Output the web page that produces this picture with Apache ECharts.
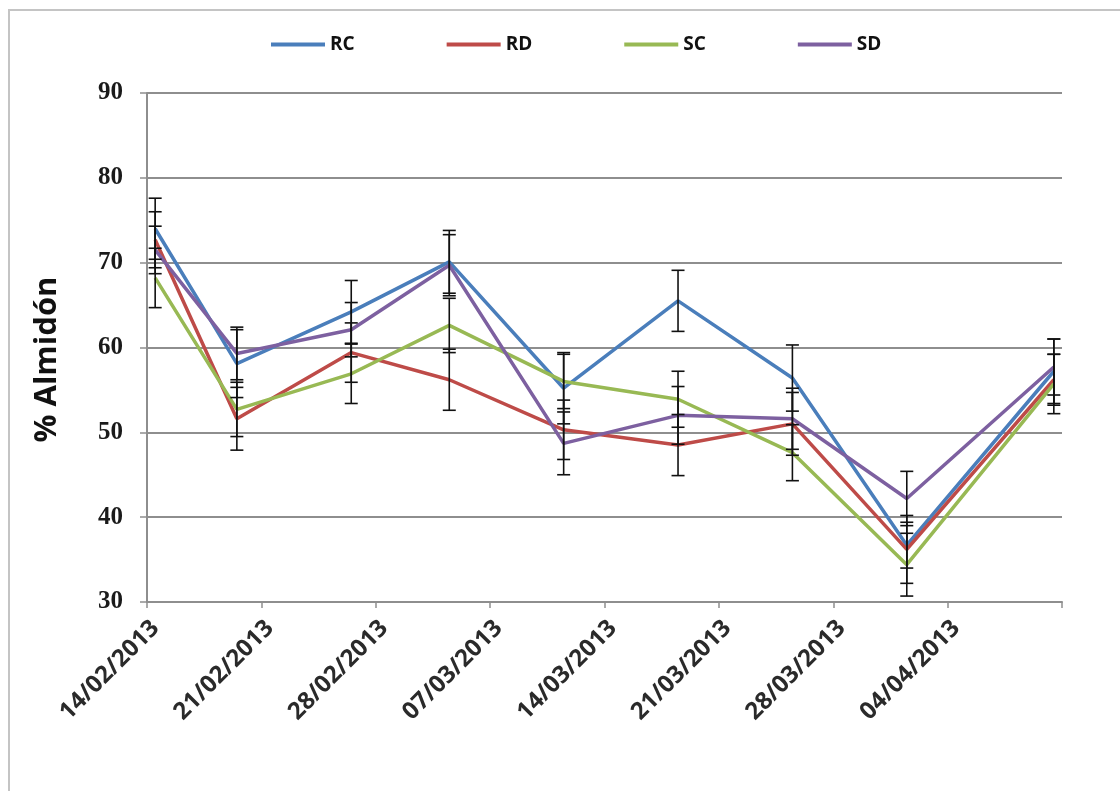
<!DOCTYPE html>
<html>
<head>
<meta charset="utf-8">
<script src="https://cdn.jsdelivr.net/npm/echarts@6/dist/echarts.min.js"></script>
<style>
  html, body { margin: 0; padding: 0; background: #ffffff; }
  #chart { width: 1120px; height: 791px; }
</style>
</head>
<body>
<div id="chart"></div>
<script>
// ---- data ----
const axisStart = '2013-02-14';
const sampleDates = ['2013-02-14', '2013-02-19', '2013-02-26', '2013-03-04', '2013-03-11',
                     '2013-03-18', '2013-03-25', '2013-04-01', '2013-04-10'];
const seriesNames = ['RC', 'RD', 'SC', 'SD'];
const RC = [74.0, 58.1, 64.2, 70.1, 55.2, 65.5, 56.4, 36.7, 57.2];
const RD = [72.7, 51.6, 59.4, 56.2, 50.3, 48.5, 51.0, 36.2, 56.2];
const SC = [68.2, 52.7, 56.9, 62.6, 56.0, 53.9, 47.6, 34.4, 55.7];
const SD = [71.5, 59.3, 62.1, 69.7, 48.7, 52.0, 51.6, 42.2, 57.7];
const RC_err = [3.6, 4.0, 3.7, 3.7, 4.2, 3.6, 3.9, 2.7, 3.8];
const RD_err = [3.3, 3.7, 3.5, 3.6, 3.5, 3.6, 3.7, 4.0, 3.0];
const SC_err = [3.5, 3.2, 3.5, 3.2, 3.2, 3.3, 3.3, 3.7, 3.5];
const SD_err = [2.8, 3.1, 3.2, 3.6, 3.7, 3.4, 3.6, 3.2, 3.3];
const xTickLabels = ['14/02/2013', '21/02/2013', '28/02/2013', '07/03/2013', '14/03/2013',
                     '21/03/2013', '28/03/2013', '04/04/2013', ''];
const yTicks = [30, 40, 50, 60, 70, 80, 90];
const colors = ['#4A7EBB', '#BE4B48', '#98B954', '#7D60A0'];

// ---- build ----
const DAY = 86400000;
const t0 = Date.parse(axisStart + 'T00:00:00Z');
// Excel date axis places each point in the middle of its day slot
const xDays = sampleDates.map(d => (Date.parse(d + 'T00:00:00Z') - t0) / DAY + 0.5);
const values = [RC, RD, SC, SD];
const errs = [RC_err, RD_err, SC_err, SD_err];

const lineSeries = seriesNames.map((name, i) => ({
  name: name,
  type: 'line',
  data: xDays.map((x, j) => [x, values[i][j]]),
  symbol: 'none',
  lineStyle: { width: 3.5, color: colors[i] },
  itemStyle: { color: colors[i] },
  z: 2
}));

const errData = [];
seriesNames.forEach((name, i) => {
  xDays.forEach((x, j) => {
    errData.push([x, values[i][j] - errs[i][j], values[i][j] + errs[i][j]]);
  });
});

const errorSeries = {
  type: 'custom',
  name: 'err',
  data: errData,
  z: 5,
  silent: true,
  renderItem: function (params, api) {
    const x = api.value(0);
    const lo = api.coord([x, api.value(1)]);
    const hi = api.coord([x, api.value(2)]);
    const w = 6.5;
    const st = { stroke: '#111', lineWidth: 1.6 };
    return {
      type: 'group',
      children: [
        { type: 'line', shape: { x1: lo[0], y1: lo[1], x2: hi[0], y2: hi[1] }, style: st },
        { type: 'line', shape: { x1: lo[0] - w, y1: lo[1], x2: lo[0] + w, y2: lo[1] }, style: st },
        { type: 'line', shape: { x1: hi[0] - w, y1: hi[1], x2: hi[0] + w, y2: hi[1] }, style: st }
      ]
    };
  }
};

const chart = echarts.init(document.getElementById('chart'), null, { renderer: 'canvas' });
chart.setOption({
  backgroundColor: '#ffffff',
  animation: false,
  color: colors,
  graphic: [{
    type: 'rect',
    shape: { x: 9, y: 10, width: 1130, height: 800 },
    style: { fill: 'none', stroke: '#c4c4c4', lineWidth: 2 },
    silent: true
  }],
  legend: {
    data: seriesNames,
    left: 271,
    top: 35,
    itemWidth: 54,
    itemHeight: 4,
    itemGap: 92,
    icon: 'rect',
    padding: 0,
    textStyle: { fontFamily: 'Open Sans', fontWeight: 'bold', fontSize: 19, color: '#111' }
  },
  grid: { left: 147, right: 58, top: 93, bottom: 189, containLabel: false },
  xAxis: {
    type: 'value',
    min: 0,
    max: 56,
    interval: 7,
    axisLine: { show: true, lineStyle: { color: '#8e8e8e', width: 2 } },
    axisTick: { show: true, inside: false, length: 6, lineStyle: { color: '#8e8e8e', width: 1.5 } },
    splitLine: { show: false },
    axisLabel: {
      rotate: 45,
      margin: 14,
      verticalAlign: 'top',
      fontFamily: 'Open Sans',
      fontWeight: 'bold',
      fontSize: 24,
      color: '#2a2a2a',
      showMaxLabel: true,
      formatter: v => xTickLabels[Math.round(v / 7)] || ''
    }
  },
  yAxis: {
    type: 'value',
    min: yTicks[0],
    max: yTicks[yTicks.length - 1],
    interval: 10,
    name: '% Almidón',
    nameLocation: 'middle',
    nameRotate: 90,
    nameGap: 84,
    nameTextStyle: { fontFamily: 'Open Sans', fontWeight: 'bold', fontSize: 31, color: '#111', padding: [0, 24, 0, 0] },
    axisLine: { show: true, lineStyle: { color: '#8e8e8e', width: 2 } },
    axisTick: { show: true, inside: false, length: 7, lineStyle: { color: '#8e8e8e', width: 1.5 } },
    splitLine: { show: true, lineStyle: { color: '#8e8e8e', width: 2 } },
    axisLabel: {
      margin: 24,
      fontFamily: 'Liberation Serif',
      fontWeight: 'bold',
      fontSize: 25,
      color: '#1a1a1a'
    }
  },
  series: lineSeries.concat([errorSeries])
});
</script>
</body>
</html>
